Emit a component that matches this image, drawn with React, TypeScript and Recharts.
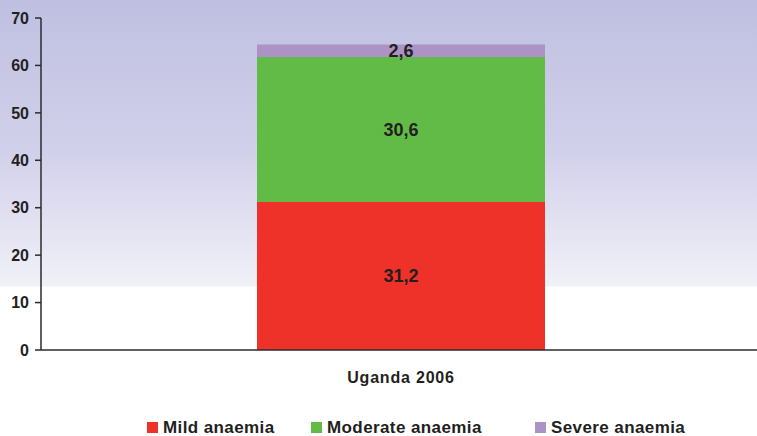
import { BarChart, Bar, XAxis, YAxis, LabelList, Legend } from "recharts";

const categories = ["Uganda 2006"];
const mild = [31.2];
const moderate = [30.6];
const severe = [2.6];
const yTicks = [0, 10, 20, 30, 40, 50, 60, 70];

const series = [
  { key: "mild", name: "Mild anaemia", color: "#ee3229" },
  { key: "moderate", name: "Moderate anaemia", color: "#62bb46" },
  { key: "severe", name: "Severe anaemia", color: "#ad92c6" },
];

const data = categories.map((c, i) => ({
  name: c,
  mild: mild[i],
  moderate: moderate[i],
  severe: severe[i],
}));

const font = "'Liberation Sans', Arial, sans-serif";
const fmt = (v: any) => String(v).replace(".", ",");

function LegendBox() {
  const widths = [164, 224, 200];
  return (
    <div
      style={{
        height: 46,
        display: "flex",
        alignItems: "flex-end",
        paddingLeft: 147,
        boxSizing: "border-box",
        fontFamily: font,
        fontWeight: "bold",
        fontSize: 17,
        letterSpacing: 0.4,
        color: "#231f20",
      }}
    >
      {series.map((s, i) => (
        <div
          key={s.key}
          style={{ width: widths[i], display: "flex", alignItems: "center", height: 17 }}
        >
          <span style={{ width: 11, height: 11, background: s.color, display: "inline-block", marginRight: 5 }} />
          <span style={{ lineHeight: "17px" }}>{s.name}</span>
        </div>
      ))}
    </div>
  );
}

export default function App() {
  return (
    <div
      style={{
        position: "absolute",
        left: 0,
        top: 0,
        width: 757,
        height: 436,
        overflow: "hidden",
        background:
          "linear-gradient(to bottom, #bfc0e1 0px, #d1d0ea 150px, #f1f1f8 286px, #ffffff 287px, #ffffff 436px)",
      }}
    >
      <BarChart
        width={757}
        height={436}
        data={data}
        margin={{ top: 18, right: -4, bottom: 0, left: 0 }}
      >
        <YAxis
          width={41}
          domain={[0, 70]}
          ticks={yTicks}
          interval={0}
          tickSize={6}
          tickMargin={6}
          stroke="#2b2b2b"
          strokeWidth={1.5}
          tick={{ fill: "#231f20", fontFamily: font, fontWeight: "bold", fontSize: 16 }}
        />
        <XAxis
          dataKey="name"
          height={40}
          tickLine={false}
          tickSize={0}
          tickMargin={22}
          stroke="#2b2b2b"
          strokeWidth={1.5}
          tick={{ fill: "#231f20", fontFamily: font, fontWeight: "bold", fontSize: 16, letterSpacing: 0.8 }}
        />
        <Legend verticalAlign="bottom" content={() => <LegendBox />} />
        {series.map((s) => (
          <Bar key={s.key} dataKey={s.key} name={s.name} stackId="a" fill={s.color} barSize={288} isAnimationActive={false}>
            <LabelList
              dataKey={s.key}
              position="center"
              formatter={fmt}
              style={{ fill: "#231f20", fontFamily: font, fontWeight: "bold", fontSize: 18 }}
            />
          </Bar>
        ))}
      </BarChart>
    </div>
  );
}
